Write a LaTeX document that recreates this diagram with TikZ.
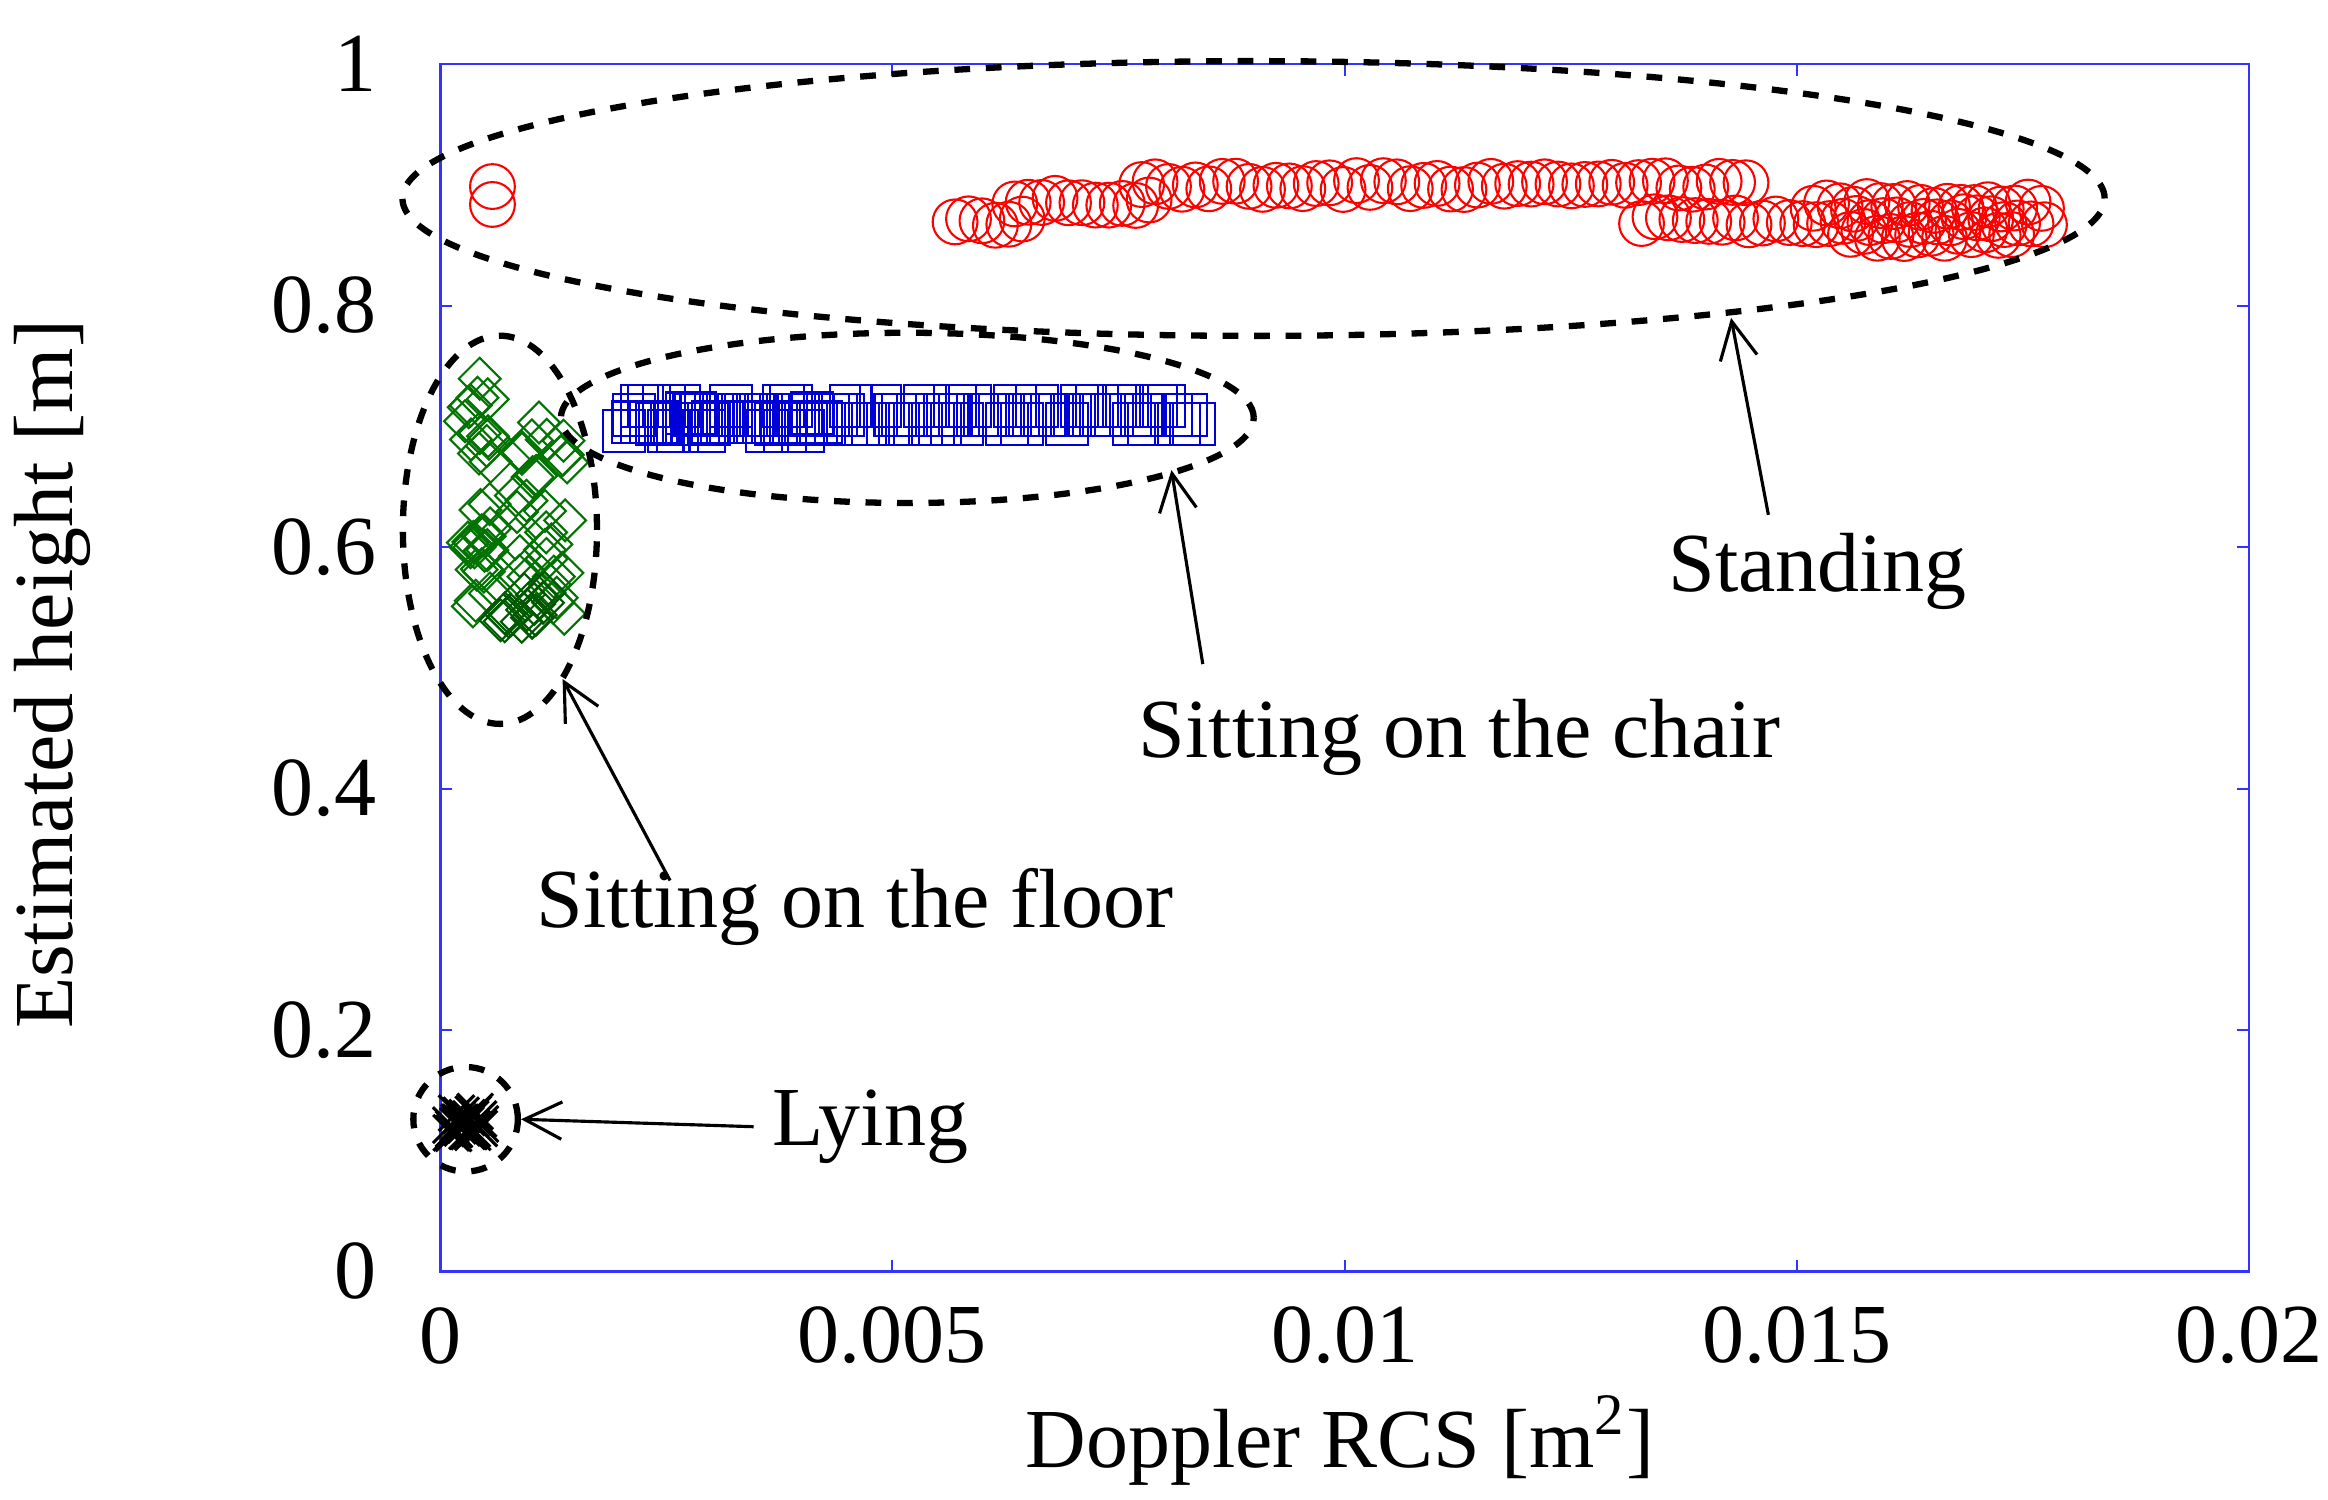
\documentclass[tikz,border=0pt]{standalone}
\usepackage{fontspec}
\setmainfont{Liberation Serif}
\usetikzlibrary{arrows.meta,shapes.geometric}

\tikzset{
  lbl/.style={font=\fontsize{16}{19}\selectfont},
  grp/.style={draw,dashed,line width=1.2pt,ellipse,inner sep=0pt},
  callout/.style={-{Straight Barb[length=2.5mm,width=2.5mm]},line width=0.6pt},
  mk/.style={line width=0.4pt}
}

\begin{document}
\begin{tikzpicture}[x=0.01cm,y=-0.01cm]
    \useasboundingbox (0,0) rectangle (1560,1005);
    \pgfmathsetseed{7}

    % Frame and ticks
    \draw[blue!80,line width=0.5pt] (295,43) rectangle (1507,852);
    \foreach \k/\t in {0/0,1/0.005,2/0.01,3/0.015,4/0.02}{
      \draw[blue!80] (295+303*\k,852) -- ++(0,-8) (295+303*\k,43) -- ++(0,8);
      \node[lbl] (xt\k) at (295+303*\k,895) {\t};
    }
    \foreach \k/\t in {0/0,1/0.2,2/0.4,3/0.6,4/0.8,5/1}{
      \draw[blue!80] (295,852-161.8*\k) -- ++(8,0) (1507,852-161.8*\k) -- ++(-8,0);
      \node[lbl,anchor=east] (yt\k) at (265,852-161.8*\k) {\t};
    }
    \node[lbl] (xlabel) at (898,965) {Doppler RCS [m\textsuperscript{2}]};
    \node[lbl,rotate=90] (ylabel) at (35,452) {Estimated height [m]};

    % Standing (red circles)
    \foreach \a/\b/\y in {640/690/148,680/770/135,765/1175/124,1100/1370/148,1240/1350/157,1215/1370/138}{
      \foreach \x in {\a,...,\b}{
        \pgfmathparse{mod(\x-\a,9)==0 ? 1 : 0}
        \ifnum\pgfmathresult=1
          \draw[red,mk] (\x,\y+rand*3) circle (15);
        \fi
      }
    }
    \draw[red,mk] (330,125) circle (15) (330,137) circle (15);

    % Sitting on the chair (blue squares)
    \foreach \x in {425,430,...,800}{
      \pgfmathsetmacro\yy{278+6*round(rand)}
      \draw[blue!85!black,mk] (\x-14,\yy-14) rectangle ++(28,28);
    }
    \foreach \x in {418,424,...,550}{
      \pgfmathsetmacro\yy{283+6*round(rand)}
      \draw[blue!85!black,mk] (\x-14,\yy-14) rectangle ++(28,28);
    }

    % Sitting on the floor (green diamonds)
    \foreach \i in {1,...,30}{
      \draw[green!45!black,mk,shift={(362+rand*18,345+rand*75)}] (0,-14) -- (14,0) -- (0,14) -- (-14,0) -- cycle;
      \draw[green!45!black,mk,shift={(320+rand*10,330+rand*80)}] (0,-14) -- (14,0) -- (0,14) -- (-14,0) -- cycle;
    }
    \foreach \i in {1,...,15}{
      \draw[green!35!black,mk,shift={(350+rand*15,408+rand*12)}] (0,-14) -- (14,0) -- (0,14) -- (-14,0) -- cycle;
    }

    % Lying (black crosses)
    \foreach \i in {1,...,25}{
      \draw[black,line width=0.6pt,shift={(312+rand*10,752+rand*8)}] (-12,-12) -- (12,12) (-12,12) -- (12,-12);
    }

    % Groups
    \node[grp,minimum width=11.4cm,minimum height=1.84cm] (standing) at (840,133) {};
    \node[grp,minimum width=4.64cm,minimum height=1.14cm] (chair) at (608,280) {};
    \node[grp,minimum width=1.30cm,minimum height=2.60cm] (floor) at (335,355) {};
    \node[grp,minimum width=0.70cm,minimum height=0.70cm] (lying) at (312,750) {};

    % Labels and callouts
    \node[lbl] (tstanding) at (1218,383) {Standing};
    \node[lbl] (tchair) at (978,494) {Sitting on the chair};
    \node[lbl] (tfloor) at (573,608) {Sitting on the floor};
    \node[lbl,anchor=west] (tlying) at (505,755) {Lying};
    \coordinate (hstanding) at (1160,213);
    \coordinate (hchair) at (785,315);
    \coordinate (hfloor) at (377,455);
    \draw[callout] (1185,345) -- (hstanding);
    \draw[callout] (806,445) -- (hchair);
    \draw[callout] (449,590) -- (hfloor);
    \draw[callout] (tlying.west) -- (lying.east);
\end{tikzpicture}
\end{document}
